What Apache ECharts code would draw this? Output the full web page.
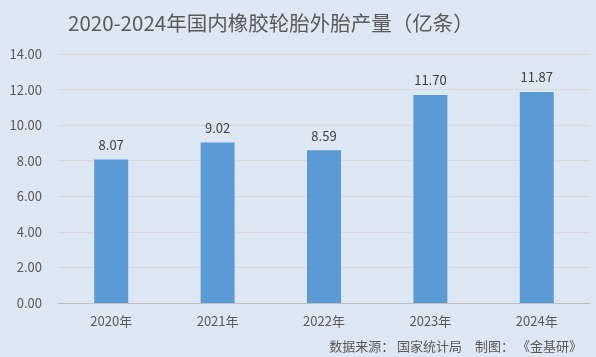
<!DOCTYPE html>
<html><head><meta charset="utf-8">
<script src="https://cdn.jsdelivr.net/npm/echarts@6/dist/echarts.min.js"></script>
<style>html,body{margin:0;padding:0;background:#dee8f4;}#c{width:596px;height:357px;}</style>
</head><body><div id="c"></div>
<script>
const categories = ['2020年','2021年','2022年','2023年','2024年'];
const values = [8.07, 9.02, 8.59, 11.70, 11.87];
const yTicks = {min: 0, max: 14, interval: 2};
const titleText = '2020-2024年国内橡胶轮胎外胎产量（亿条）';
const sourceText = '数据来源： 国家统计局　制图： 《金基研》';
const FONT = '"Microsoft YaHei","Noto Sans CJK SC","Noto Sans",sans-serif';
const chart = echarts.init(document.getElementById('c'));
chart.setOption({
  backgroundColor: '#dee8f4',
  animation: false,
  textStyle: {fontFamily: FONT},
  title: [{
    text: titleText, left: 63, top: 8,
    textStyle: {fontSize: 20.5, fontWeight: 'normal', color: '#595959', fontFamily: FONT}
  }, {
    text: sourceText, right: 9, top: 335,
    textStyle: {fontSize: 13, fontWeight: 'normal', color: '#595959', fontFamily: FONT}
  }],
  grid: {left: 58, right: 6, top: 54, bottom: 54, containLabel: false},
  xAxis: {
    type: 'category', data: categories,
    axisLine: {lineStyle: {color: '#bfbfbf'}},
    axisTick: {show: false},
    axisLabel: {color: '#595959', fontSize: 13, margin: 12, fontFamily: FONT}
  },
  yAxis: {
    type: 'value', min: yTicks.min, max: yTicks.max, interval: yTicks.interval,
    axisLine: {show: false}, axisTick: {show: false},
    splitLine: {lineStyle: {color: '#d9d9d9'}},
    axisLabel: {color: '#595959', fontSize: 13, margin: 16, fontFamily: FONT,
      formatter: v => v.toFixed(2)}
  },
  series: [{
    type: 'bar', data: values, barWidth: 34,
    itemStyle: {color: '#5b9bd5'},
    label: {show: true, position: 'top', distance: 8, color: '#404040', fontSize: 13,
      fontFamily: FONT, formatter: p => p.value.toFixed(2)}
  }]
});
</script></body></html>
